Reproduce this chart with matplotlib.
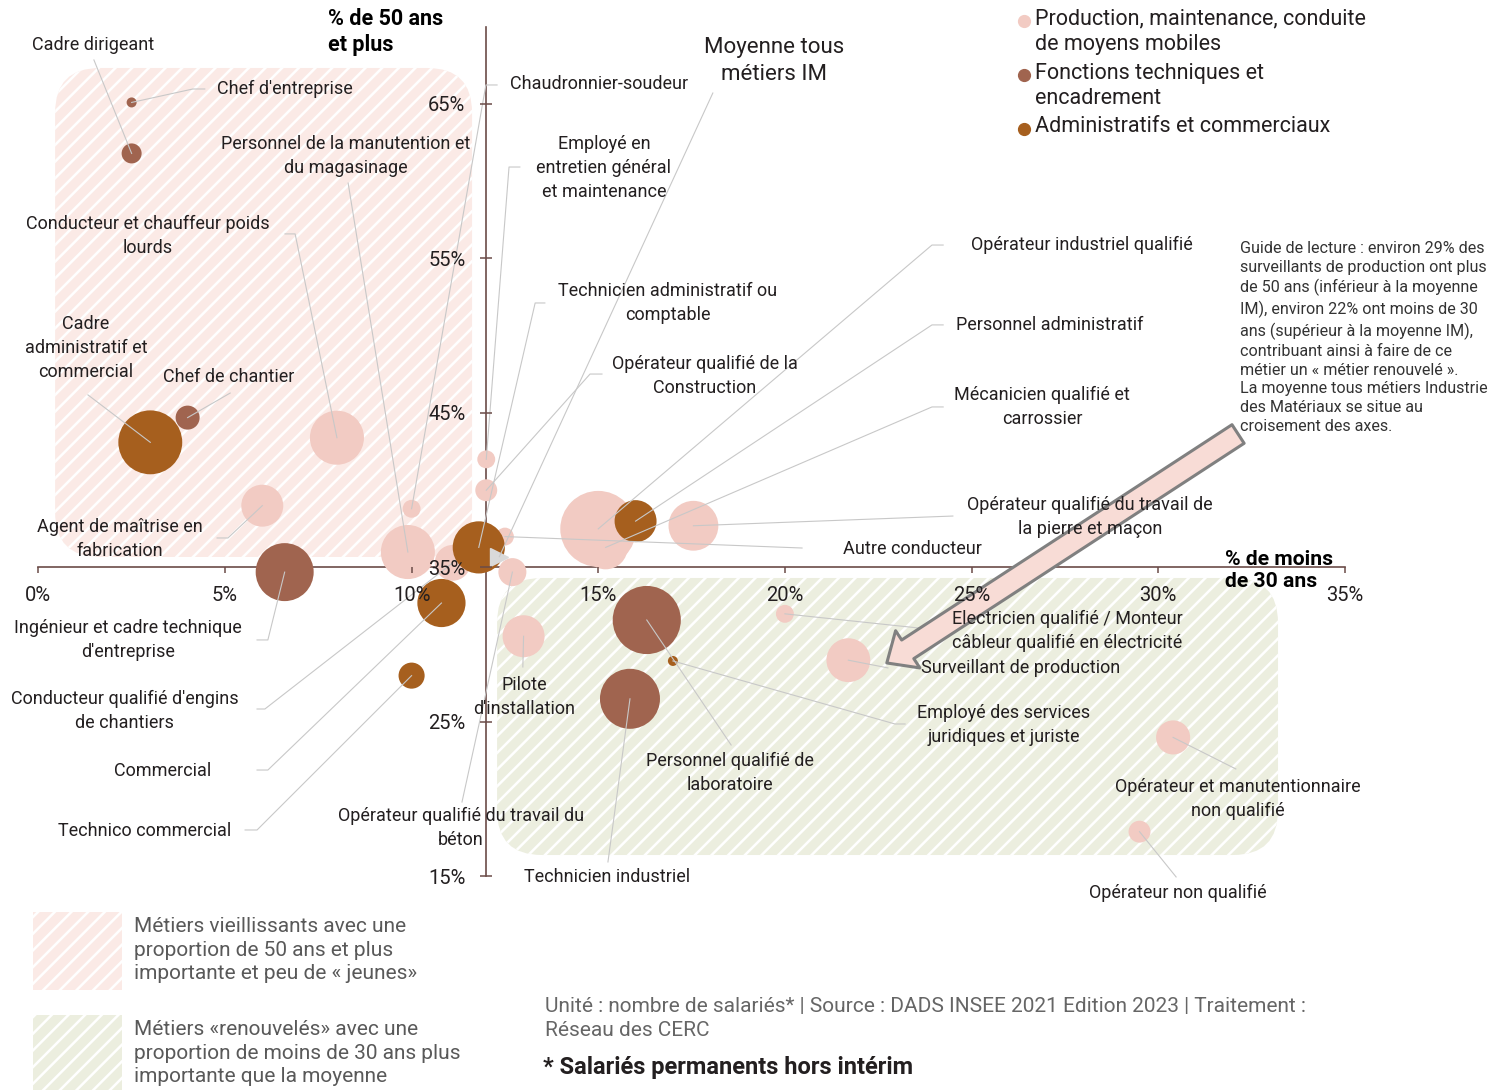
import matplotlib
matplotlib.use("Agg")
import matplotlib.pyplot as plt
from matplotlib.patches import FancyBboxPatch, FancyArrowPatch, Rectangle

plt.rcParams['font.family'] = ['Roboto', 'DejaVu Sans']
plt.rcParams['hatch.color'] = 'white'
plt.rcParams['hatch.linewidth'] = 1.8

# ---- data: % de moins de 30 ans (x), % de 50 ans et plus (y), effectifs, famille ----
metiers = [
    "Cadre dirigeant", "Chef d'entreprise",
    "Personnel de la manutention et\ndu magasinage",
    "Conducteur et chauffeur poids\nlourds",
    "Cadre\nadministratif et\ncommercial", "Chef de chantier",
    "Agent de maîtrise en\nfabrication",
    "Ingénieur et cadre technique\nd'entreprise",
    "Conducteur qualifié d'engins\nde chantiers", "Commercial", "Technico commercial",
    "Opérateur qualifié du travail du\nbéton", "Pilote\nd'installation",
    "Technicien industriel", "Personnel qualifié de\nlaboratoire",
    "Employé des services\njuridiques et juriste",
    "Electricien qualifié / Monteur\ncâbleur qualifié en électricité",
    "Surveillant de production",
    "Opérateur et manutentionnaire\nnon qualifié", "Opérateur non qualifié",
    "Autre conducteur",
    "Opérateur qualifié du travail de\nla pierre et maçon",
    "Mécanicien qualifié et\ncarrossier", "Personnel administratif",
    "Opérateur industriel qualifié",
    "Opérateur qualifié de la\nConstruction",
    "Technicien administratif ou\ncomptable",
    "Employé en\nentretien général\net maintenance", "Chaudronnier-soudeur",
]
pct_moins_30 = [2.5, 2.5, 9.9, 8.0, 3.0, 4.0, 6.0, 6.6, 11.1, 10.8, 10.0, 12.7, 13.0,
                15.85, 16.3, 17.0, 20.0, 21.7, 30.4, 29.5, 12.5, 17.55, 15.2, 16.0,
                15.0, 12.0, 11.8, 12.0, 10.0]
pct_50_plus = [61.8, 65.1, 36.0, 43.4, 43.1, 44.7, 39.0, 34.7, 35.3, 32.7, 28.0, 34.7,
               30.55, 26.5, 31.6, 28.95, 32.0, 29.0, 24.0, 17.9, 37.0, 37.7, 36.3, 38.0,
               37.5, 40.0, 36.3, 42.0, 38.8]
effectifs = [500, 125, 3650, 3650, 5100, 720, 2200, 4200, 1600, 2900, 850, 980, 2200,
             4500, 5800, 125, 400, 2400, 1450, 600, 400, 3100, 2400, 2200, 7200, 600,
             3400, 400, 400]
familles = ["T", "T", "P", "P", "A", "T", "P", "T", "P", "A", "A", "P", "P",
            "T", "T", "A", "P", "P", "P", "P", "P", "P", "P", "A",
            "P", "P", "A", "P", "P"]

moyenne_x, moyenne_y = 12.35, 35.7

famille_noms = {"P": "Production, maintenance, conduite\nde moyens mobiles",
                "T": "Fonctions techniques et\nencadrement",
                "A": "Administratifs et commerciaux"}
couleurs = {"P": "#F2CBC3", "T": "#A0644F", "A": "#A65F1E"}

# label layout: (x, y, ha) and leader elbow points
label_pos = [
    (1.47, 68.82, "center"), (4.79, 65.97, "left"), (8.24, 61.63, "center"),
    (2.94, 56.46, "center"), (1.28, 49.21, "center"), (5.11, 47.33, "center"),
    (2.19, 36.85, "center"), (2.40, 30.31, "center"), (2.32, 25.71, "center"),
    (3.34, 21.83, "center"), (2.86, 17.95, "center"), (11.32, 18.14, "center"),
    (13.01, 26.62, "center"), (15.23, 14.97, "center"), (18.53, 21.70, "center"),
    (25.87, 24.81, "center"), (27.56, 30.89, "center"), (23.65, 28.50, "left"),
    (32.14, 20.02, "center"), (30.53, 13.93, "center"), (21.56, 36.20, "left"),
    (28.17, 38.27, "center"), (26.89, 45.39, "center"), (24.58, 50.70, "left"),
    (24.99, 55.87, "left"), (17.86, 47.39, "center"), (16.87, 52.12, "center"),
    (15.15, 60.86, "center"), (12.64, 66.29, "left"),
]
leaders = [
    [(1.49, 67.85)], [(4.46, 65.97), (4.14, 65.97)], [(8.30, 59.88)],
    [(6.61, 56.59), (6.88, 56.59)], [(1.33, 46.17)], [(5.14, 46.29)],
    [(4.79, 36.91), (5.08, 36.91)], [(5.86, 30.31), (6.15, 30.31)],
    [(5.86, 25.84), (6.07, 25.84)], [(5.86, 21.89), (6.15, 21.89)],
    [(5.54, 18.01), (5.86, 18.01)], [(11.35, 19.82)], [(12.98, 28.56)],
    [(15.26, 15.94)], [(18.56, 23.51)], [(23.22, 24.87), (22.95, 24.87)],
    [(24.10, 30.95)], [(22.76, 28.50)], [(32.08, 21.96)], [(30.48, 14.97)],
    [(20.46, 36.26)], [(24.50, 38.33)], [(24.24, 45.39), (23.94, 45.39)],
    [(24.24, 50.70), (23.94, 50.70)], [(24.24, 55.87), (23.94, 55.87)],
    [(15.10, 47.52), (14.78, 47.52)], [(13.57, 52.12), (13.31, 52.12)],
    [(12.90, 60.92), (12.61, 60.92)], [(12.29, 66.23), (11.99, 66.23)],
]

txt_col = "#231F20"
axe_col = "#6B4C48"
ligne_col = "#C8C8C8"

fig = plt.figure(figsize=(14.99, 10.90), dpi=100)
ax = fig.add_axes([0, 0, 1, 1])
ax.set_xlim(-1.026, 39.13)
ax.set_ylim(1.18, 71.73)
ax.patch.set_alpha(0)

# zones hachurées
asp = 2.416
zone_vieux = FancyBboxPatch((0.45, 35.68), 11.17, 31.65,
                            boxstyle="round,pad=0,rounding_size=1.2", mutation_aspect=asp,
                            facecolor="#FBEAE6", edgecolor="white", linewidth=0,
                            hatch="//", zorder=0)
zone_jeune = FancyBboxPatch((12.29, 16.39), 20.92, 17.93,
                            boxstyle="round,pad=0,rounding_size=1.2", mutation_aspect=asp,
                            facecolor="#ECEEDF", edgecolor="white", linewidth=0,
                            hatch="//", zorder=0)
ax.add_patch(zone_vieux)
ax.add_patch(zone_jeune)

# axes croisés
for s in ["top", "right"]:
    ax.spines[s].set_visible(False)
ax.spines["left"].set_position(("data", 12))
ax.spines["bottom"].set_position(("data", 35))
ax.spines["left"].set_bounds(15, 70)
ax.spines["bottom"].set_bounds(0, 35)
for s in ["left", "bottom"]:
    ax.spines[s].set_color(axe_col)
    ax.spines[s].set_linewidth(1.2)
    ax.spines[s].set_zorder(0.5)
xt = list(range(0, 36, 5))
yt = list(range(15, 66, 10))
ax.set_xticks(xt)
ax.set_xticklabels([f"{t}%" for t in xt])
ax.set_yticks(yt)
ax.set_yticklabels([f"{t}%" for t in yt])
ax.tick_params(axis="x", direction="out", length=4.5, width=1.1, color=axe_col,
               pad=8.5, labelsize=14.5, labelcolor=txt_col)
ax.tick_params(axis="y", direction="inout", length=9, width=1.1, color=axe_col,
               pad=10.5, labelsize=14.5, labelcolor=txt_col)
ax.xaxis.set_zorder(3)
ax.yaxis.set_zorder(3)

# bulles
for fam in ["P", "T", "A"]:
    idx = [i for i, f in enumerate(familles) if f == fam]
    ax.scatter([pct_moins_30[i] for i in idx], [pct_50_plus[i] for i in idx],
               s=[effectifs[i] * 0.415 for i in idx], color=couleurs[fam],
               linewidths=0, zorder=1)

# étiquettes et traits de rappel
for i, nom in enumerate(metiers):
    pts = leaders[i] + [(pct_moins_30[i], pct_50_plus[i])]
    ax.plot([p[0] for p in pts], [p[1] for p in pts], color=ligne_col, lw=0.8, zorder=2)
    lx, ly, ha = label_pos[i]
    ax.text(lx, ly, nom, ha=ha, va="center", fontsize=13, color=txt_col,
            linespacing=1.4, zorder=3)

# moyenne
ax.plot([moyenne_x], [moyenne_y], marker=">", markersize=13, color="#D9D9D9",
        linestyle="none", zorder=2)
ax.plot([18.07, moyenne_x], [65.71, moyenne_y], color=ligne_col, lw=0.8, zorder=2)
ax.text(19.71, 67.78, "Moyenne tous\nmétiers IM", ha="center", va="center",
        fontsize=16, color=txt_col, linespacing=1.35)

# titres des axes
ax.text(7.76, 69.66, "% de 50 ans\net plus", ha="left", va="center", fontsize=15.5,
        fontweight="bold", color="black", linespacing=1.25)
ax.text(31.8, 34.8, "% de moins\nde 30 ans", ha="left", va="center", fontsize=15.2,
        fontweight="bold", color="black", linespacing=1.25, zorder=4)

# flèche de lecture
fleche = FancyArrowPatch((32.14, 43.64), (22.73, 28.82),
                         arrowstyle="simple,head_length=18,head_width=32,tail_width=16",
                         mutation_scale=1, shrinkA=0, shrinkB=0,
                         facecolor="#F8DCD6", edgecolor="#808080", linewidth=2.2,
                         zorder=2.6)
ax.add_patch(fleche)

# légende des familles
leg_y = {"P": (0.9807, 0.9711), "T": (0.9312, 0.9211), "A": (0.8817, 0.8835)}
for fam in ["P", "T", "A"]:
    by, ty = leg_y[fam]
    ax.plot([0.6831], [by], marker="o", markersize=8.5, color=couleurs[fam],
            transform=fig.transFigure, linestyle="none")
    fig.text(0.6905, ty, famille_noms[fam], ha="left", va="center", fontsize=15.5,
             color=txt_col, linespacing=1.3)

# guide de lecture
guide = ("Guide de lecture : environ 29% des\nsurveillants de production ont plus\n"
         "de 50 ans (inférieur à la moyenne\nIM), environ 22% ont moins de 30\n"
         "ans (supérieur à la moyenne IM),\ncontribuant ainsi à faire de ce\n"
         "métier un « métier renouvelé ».\nLa moyenne tous métiers Industrie\n"
         "des Matériaux se situe au\ncroisement des axes.")
fig.text(0.8272, 0.6904, guide, ha="left", va="center", fontsize=11.6, color="#333333",
         linespacing=1.33)

# légende des zones
ax.add_patch(Rectangle((0.022, 0.0917), 0.0594, 0.0716, transform=fig.transFigure,
                       facecolor="#FBEAE6", edgecolor="white", linewidth=0, hatch="//"))
ax.add_patch(Rectangle((0.022, 0.0), 0.0594, 0.0688, transform=fig.transFigure,
                       facecolor="#ECEEDF", edgecolor="white", linewidth=0, hatch="//"))
fig.text(0.0894, 0.1284, "Métiers vieillissants avec une\nproportion de 50 ans et plus\n"
         "importante et peu de « jeunes»", ha="left", va="center", fontsize=15,
         color="#595959", linespacing=1.3)
fig.text(0.0894, 0.0339, "Métiers «renouvelés» avec une\nproportion de moins de 30 ans plus\n"
         "importante que la moyenne", ha="left", va="center", fontsize=15,
         color="#595959", linespacing=1.3)

# source
fig.text(0.3636, 0.0656, "Unité : nombre de salariés* | Source : DADS INSEE 2021 Edition 2023 | "
         "Traitement :\nRéseau des CERC", ha="left", va="center", fontsize=15,
         color="#666666", linespacing=1.3)
fig.text(0.3622, 0.0211, "* Salariés permanents hors intérim", ha="left", va="center",
         fontsize=17, fontweight="bold", color=txt_col)

fig.savefig("out.png", dpi=100)
